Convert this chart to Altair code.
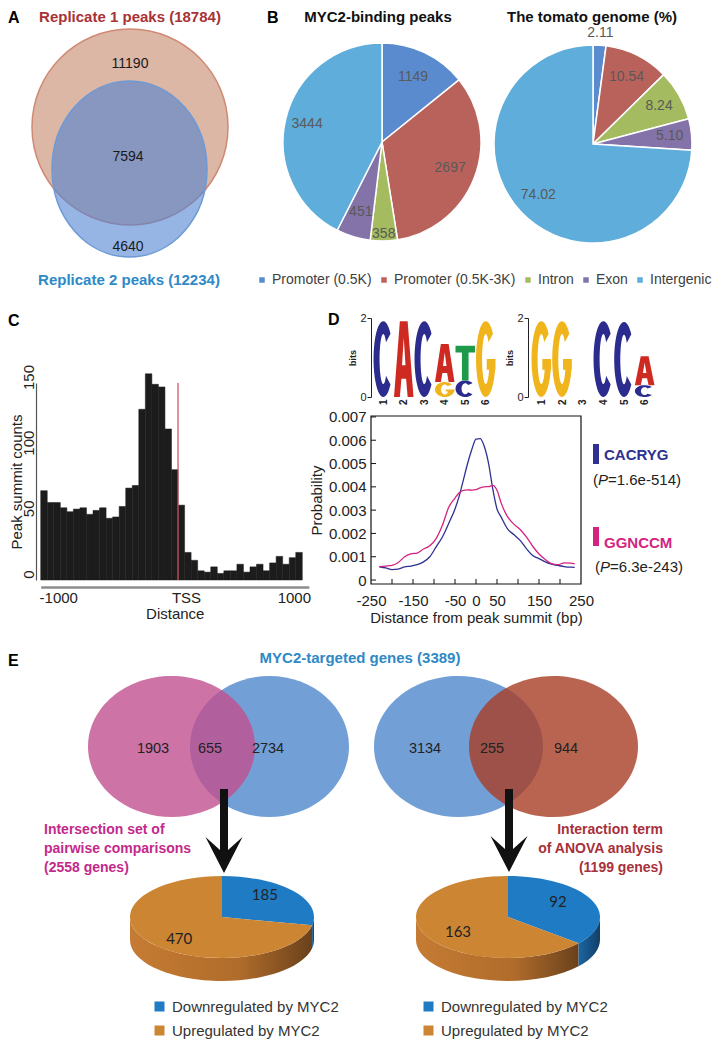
import math
import altair as alt
import pandas as pd

W, H = 706, 1032
FONT = "Liberation Sans"

# ---------------- data ----------------
rep_titles = ["Replicate 1 peaks (18784)", "Replicate 2 peaks (12234)"]
rep_counts = [11190, 7594, 4640]

region_cats = ["Promoter (0.5K)", "Promoter (0.5K-3K)", "Intron", "Exon", "Intergenic"]
myc2_peaks = [1149, 2697, 358, 451, 3444]
genome_pct = [2.11, 10.54, 8.24, 5.10, 74.02]

hist_counts = [68, 59, 59, 55, 52, 54, 55, 50, 53, 55, 47, 48, 56, 70, 72,
               130, 157, 149, 147, 115, 84, 57, 21, 15, 7, 6, 10, 5, 7, 7,
               12, 6, 10, 12, 7, 13, 18, 12, 17, 21]
hist_first_edge = -1050
hist_bin_width = 50
tss_pos = 0

motif1_stacks = [[("C", 1.92)], [("A", 1.92)], [("C", 1.92)],
                 [("G", 0.38), ("A", 0.96)], [("C", 0.42), ("T", 0.88)], [("G", 1.92)]]
motif2_stacks = [[("G", 1.92)], [("G", 1.92)], [], [("C", 1.92)], [("C", 1.90)],
                 [("C", 0.30), ("A", 0.73)]]

motif_names = ["CACRYG", "GGNCCM"]
motif_pvals = ["=1.6e-514)", "=6.3e-243)"]
dist_bp = [-230, -215, -200, -185, -170, -155, -140, -125, -110, -95, -80, -65, -50, -40,
           -30, -20, -10, 0, 10, 20, 30, 40, 50, 60, 75, 90, 105, 120, 135, 150, 165,
           180, 195, 210, 225, 235]
cacryg_prob = [0.00057, 0.00052, 0.00045, 0.00047, 0.00056, 0.00060, 0.00066, 0.00078,
               0.00100, 0.00142, 0.00185, 0.00243, 0.00305, 0.00360, 0.00430, 0.00500,
               0.00560, 0.00605, 0.00607, 0.00572, 0.00500, 0.00390, 0.00305, 0.00270,
               0.00220, 0.00195, 0.00170, 0.00135, 0.00105, 0.00092, 0.00078, 0.00068,
               0.00063, 0.00058, 0.00055, 0.00054]
ggnccm_prob = [0.00057, 0.00060, 0.00063, 0.00075, 0.00100, 0.00112, 0.00116, 0.00133,
               0.00147, 0.00178, 0.00235, 0.00312, 0.00352, 0.00375, 0.00385, 0.00387,
               0.00386, 0.00388, 0.00396, 0.00400, 0.00401, 0.00406, 0.00385, 0.00330,
               0.00272, 0.00240, 0.00217, 0.00185, 0.00145, 0.00112, 0.00088, 0.00070,
               0.00066, 0.00074, 0.00073, 0.00069]

venn_left_counts = [1903, 655, 2734]
venn_right_counts = [3134, 255, 944]
pie_groups = ["Downregulated by MYC2", "Upregulated by MYC2"]
pie_left_counts = [185, 470]
pie_right_counts = [92, 163]

# ---------------- styles ----------------
REGION_COLORS = ["#5b8bcf", "#b9625b", "#a5bb5f", "#8473a8", "#5eadda"]
LETTER_COLORS = {"A": "#cf2a22", "C": "#2c2c8f", "G": "#f0b41c", "T": "#1f9a4a"}
MOTIF_COLORS = ["#2e3192", "#d4237f"]
PIE_TOP = ["#1f7bc4", "#cc8533"]
ORANGE_SIDE = alt.LinearGradient(gradient="linear", x1=0, x2=1, y1=0, y2=0, stops=[
    alt.GradientStop(color="#c57b33", offset=0), alt.GradientStop(color="#b06c2b", offset=0.6),
    alt.GradientStop(color="#6a411c", offset=1)])
BLUE_SIDE = alt.LinearGradient(gradient="linear", x1=0, x2=1, y1=0, y2=0, stops=[
    alt.GradientStop(color="#1c66a3", offset=0), alt.GradientStop(color="#123f67", offset=1)])
INK = "#222222"

# page-coordinate scales (reference pixel coordinates)
PX = alt.Scale(domain=[8, 8 + W], range=[0, W], zero=False, nice=False)
PY = alt.Scale(domain=[8, 8 + H], range=[0, H], zero=False, nice=False)

layers = []


def page_xy():
    return dict(x=alt.X("x:Q", scale=PX, axis=None), y=alt.Y("y:Q", scale=PY, axis=None))


def texts(rows, size, color, weight="normal", align="center", style="normal", font=FONT):
    df = pd.DataFrame([(str(t), x, y) for t, x, y in rows], columns=["t", "x", "y"])
    layers.append(alt.Chart(df).mark_text(font=font, fontSize=size, color=color, fontWeight=weight,
                                          fontStyle=style, align=align, baseline="middle"
                                          ).encode(text="t:N", **page_xy()))


def ellipse_path(rx, ry):
    return f"M{-rx},0A{rx},{ry} 0 1,0 {rx},0A{rx},{ry} 0 1,0 {-rx},0Z"


def rect_path(w, h):
    return f"M{-w/2},{-h/2}L{w/2},{-h/2}L{w/2},{h/2}L{-w/2},{h/2}Z"


def arrow_path(length, shaft_hw, head_hw, head_len, notch):
    pts = [(-shaft_hw, -length), (shaft_hw, -length), (shaft_hw, -notch), (head_hw, -head_len),
           (0, 0), (-head_hw, -head_len), (-shaft_hw, -notch)]
    return "M" + "L".join(f"{x},{y}" for x, y in pts) + "Z"


def shapes(rows, fill, fill_opacity=1.0, stroke=None, stroke_width=0.0):
    df = pd.DataFrame(rows, columns=["p", "x", "y"])
    kw = dict(filled=True, fill=fill, fillOpacity=fill_opacity, opacity=1, size=4)
    if stroke:
        kw.update(stroke=stroke, strokeWidth=stroke_width, strokeOpacity=1)
    layers.append(alt.Chart(df).mark_point(**kw).encode(shape=alt.Shape("p:N", scale=None), **page_xy()))


# ---------------- letter glyphs for sequence logos ----------------
def linspace(a, b, n):
    return [a + (b - a) * k / (n - 1) for k in range(n)]


def ell_arc(cx, cy, rx, ry, t0, t1, n=36):
    return [(cx + rx * math.cos(math.radians(t)), cy - ry * math.sin(math.radians(t)))
            for t in linspace(t0, t1, n)]


GLYPHS = {
    "C": [(ell_arc(.5, .5, .5, .5, 42, 318) + ell_arc(.5, .5, .19, .33, 318, 42), False)],
    "G": [(ell_arc(.5, .5, .5, .5, 42, 360) + ell_arc(.5, .5, .19, .33, 360, 42), False),
          ([(.55, .5), (1, .5), (1, .64), (.55, .64)], False)],
    "A": [([(0, 1), (.3, 0), (.7, 0), (1, 1), (.7, 1), (.62, .76), (.38, .76), (.3, 1)], False),
          ([(.41, .58), (.5, .22), (.59, .58)], True)],
    "T": [([(0, 0), (1, 0), (1, .2), (.67, .2), (.67, 1), (.33, 1), (.33, .2), (0, .2)], False)],
}


def glyph_path(letter, w, h):
    out = []
    for poly, hole in GLYPHS[letter]:
        pts = [((u - .5) * w, (v - .5) * h) for u, v in poly]
        n = len(pts)
        area = sum(pts[k][0] * pts[(k + 1) % n][1] - pts[(k + 1) % n][0] * pts[k][1] for k in range(n))
        if (area < 0) != hole:
            pts = pts[::-1]
        out.append("M" + "L".join(f"{x:.2f},{y:.2f}" for x, y in pts) + "Z")
    return "".join(out)


# ================= panel A venn =================
shapes([(ellipse_path(98, 98), 130, 127)], "#dcb7a6", 1, "#d08a74", 1.5)
shapes([(ellipse_path(77.5, 88), 129.5, 169)], "#5082d2", 0.6, "#6c9ad6", 1.5)
texts([(rep_counts[0], 130, 64), (rep_counts[1], 128, 157), (rep_counts[2], 128, 247)], 14, "#1a1a1a")
texts([(rep_titles[0], 130, 17)], 15, "#a83236", "bold")
texts([(rep_titles[1], 129, 280)], 15, "#2e89c6", "bold")
texts([("A", 8, 18), ("B", 267, 18), ("C", 8, 321), ("D", 328, 320), ("E", 8, 661)],
      16, "black", "bold", "left")
texts([("MYC2-binding peaks", 378, 17), ("The tomato genome (%)", 592, 17)], 15, "#111111", "bold")

# ================= panel B pies =================
B_LEGEND = alt.Legend(orient="none", legendX=247, legendY=265, direction="horizontal", title=None,
                      symbolType="square", symbolSize=30, symbolStrokeWidth=0, labelFontSize=14,
                      labelFont=FONT, labelColor="#404040", columnPadding=5, labelOffset=3,
                      padding=0, labelLimit=300)


def pie_b(values, labels, label_r, cx, cy, legend):
    df = pd.DataFrame({"cat": region_cats, "v": values, "i": list(range(len(values))),
                       "lr": label_r, "lab": labels})
    center = dict(x=alt.value(cx - 8), y=alt.value(cy - 8))
    layers.append(alt.Chart(df).mark_arc(radius=99, stroke="white", strokeWidth=1.5).encode(
        theta=alt.Theta("v:Q", stack=True), order=alt.Order("i:Q"),
        color=alt.Color("cat:N", scale=alt.Scale(domain=region_cats, range=REGION_COLORS), legend=legend),
        **center))
    layers.append(
        alt.Chart(df)
        .transform_window(cum="sum(v)", sort=[alt.SortField("i", order="ascending")], frame=[None, 0])
        .transform_joinaggregate(tot="sum(v)")
        .transform_calculate(mid="2*PI*(datum.cum - datum.v/2)/datum.tot")
        .mark_text(fontSize=14, color="#595959", font=FONT)
        .encode(text="lab:N", theta=alt.Theta("mid:Q", scale=None),
                radius=alt.Radius("lr:Q", scale=None), **center))


pie_b(myc2_peaks, [str(v) for v in myc2_peaks], [72, 73, 92, 73, 77], 382, 142, B_LEGEND)
pie_b(genome_pct, [f"{v:.2f}" for v in genome_pct], [111, 75, 76, 77, 75], 593, 144, None)

# ================= panel C histogram =================
hist_df = pd.DataFrame({"start": [hist_first_edge + i * hist_bin_width for i in range(len(hist_counts))],
                        "count": hist_counts})
hist_df["end"] = hist_df["start"] + hist_bin_width
PX_PER_BP = 261.6 / 2000
HXS = alt.Scale(domain=[-1050, 1000], range=[32.7, 32.7 + 2050 * PX_PER_BP], zero=False, nice=False)
HYS = alt.Scale(domain=[0, 150], range=[572, 375], zero=False, nice=False)

hx_axis = alt.Axis(orient="bottom", offset=579 - H, values=[-1000, 0, 1000],
                   labelExpr="datum.value == 0 ? 'TSS' : (datum.value < 0 ? '-' : '') + abs(datum.value)",
                   labelOffset={"condition": [{"test": "datum.value < 0", "value": 11},
                                              {"test": "datum.value == 0", "value": 8}], "value": -15},
                   ticks=False, domainColor="#8c8c8c", domainWidth=2.5, labelFontSize=15,
                   labelColor=INK, labelPadding=3, labelFlush=False, labelOverlap=False,
                   title="Distance", titleFontSize=15, titleFontWeight="normal", titleColor=INK,
                   titlePadding=1, grid=False)
hy_axis = alt.Axis(orient="left", offset=-28, values=[0, 50, 100, 150], ticks=False,
                   domainColor="#555555", domainWidth=1.2, labelAngle=270, labelAlign="center",
                   labelBaseline="alphabetic", labelPadding=3, labelOffset=-6, labelFontSize=15,
                   labelColor=INK, labelOverlap=False, labelFlush=False,
                   title="Peak summit counts", titleFontSize=15, titleFontWeight="normal",
                   titleColor=INK, titlePadding=-3, grid=False)

layers.append(alt.Chart(hist_df).mark_rect(color="#1c1c1c", stroke="#1c1c1c", strokeWidth=0.5).encode(
    x=alt.X("start:Q", scale=HXS, axis=hx_axis), x2=alt.X2("end"),
    y=alt.Y("count:Q", scale=HYS, axis=hy_axis), y2=alt.datum(0)))
layers.append(alt.Chart(pd.DataFrame({"x": [tss_pos]})).mark_rule(color="#c9555f", strokeWidth=1.6, opacity=0.8).encode(
    x=alt.X("x:Q", scale=HXS, axis=None), y=alt.YDatum(0, scale=HYS, axis=None), y2=alt.datum(150)))

# ================= panel D logos =================
LOGO_Y = alt.Scale(domain=[0, 2], range=[389, 310], zero=False, nice=False)
PX_PER_BIT = (389 - 310) / 2


def logo_chart(stacks, x_range, axis_x):
    colw = (x_range[1] - x_range[0]) / 6
    rows = []
    for ci, stack in enumerate(stacks, start=1):
        base = 0.0
        for letter, bits in stack:
            rows.append({"col": ci, "letter": letter, "ym": base + bits / 2,
                         "path": glyph_path(letter, colw * 0.95, bits * PX_PER_BIT)})
            base += bits
    df = pd.DataFrame(rows)
    xs = alt.Scale(domain=[0.5, 6.5], range=list(x_range), zero=False, nice=False)
    layers.append(alt.Chart(df).mark_point(filled=True, opacity=1, size=4).encode(
        x=alt.X("col:Q", scale=xs, axis=alt.Axis(
            orient="bottom", offset=389 - H, values=[1, 2, 3, 4, 5, 6], format="d", labelAngle=270,
            labelAlign="right", labelBaseline="middle", ticks=False, domain=False, labelFontSize=10,
            labelFontWeight="bold", labelColor=INK, labelPadding=2, labelFlush=False,
            labelOverlap=False, title=None, grid=False)),
        y=alt.Y("ym:Q", scale=LOGO_Y, axis=alt.Axis(
            orient="left", offset=-(axis_x - 8), values=[0, 1, 2], format="d", tickSize=4, tickColor=INK,
            domainColor=INK, labelFontSize=11, labelColor=INK, labelPadding=1,
            labelFlush=False, labelOverlap=False, title="bits", titleFontSize=9,
            titleFontWeight="bold", titleColor=INK, titlePadding=2, grid=False)),
        shape=alt.Shape("path:N", scale=None),
        color=alt.Color("letter:N", scale=alt.Scale(domain=list(LETTER_COLORS),
                                                    range=list(LETTER_COLORS.values())), legend=None),
    ))


logo_chart(motif1_stacks, (365, 488), 371)
logo_chart(motif2_stacks, (523, 647), 528)

# ================= panel D line chart =================
LXS = alt.Scale(domain=[-250, 250], range=[363, 573], zero=False, nice=False)
LY0, LY1 = -0.00017, 0.00704
LYS = alt.Scale(domain=[LY0, LY1], range=[576, 408], zero=False, nice=False)
n_pts = len(dist_bp)
line_df = pd.DataFrame({"bp": dist_bp * 2, "p": cacryg_prob + ggnccm_prob,
                        "motif": [motif_names[0]] * n_pts + [motif_names[1]] * n_pts})
prob_ticks = [round(0.001 * k, 3) for k in range(8)]

layers.append(alt.Chart(pd.DataFrame({"a": [0]})).mark_rect(fillOpacity=0, stroke="#111111", strokeWidth=1.2).encode(
    x=alt.XDatum(-250, scale=LXS, axis=None), x2=alt.datum(250),
    y=alt.YDatum(LY0, scale=LYS, axis=None), y2=alt.datum(LY1)))
layers.append(alt.Chart(pd.DataFrame({"v": list(range(-200, 201, 50))})).mark_rule(color="#111111").encode(
    x=alt.X("v:Q", scale=LXS, axis=None), y=alt.value(576), y2=alt.value(571)))
layers.append(alt.Chart(pd.DataFrame({"v": prob_ticks})).mark_rule(color="#111111").encode(
    y=alt.Y("v:Q", scale=LYS, axis=None), x=alt.value(363), x2=alt.value(368)))
layers.append(alt.Chart(line_df).mark_line(strokeWidth=1.3, interpolate="monotone").encode(
    x=alt.X("bp:Q", scale=LXS, axis=alt.Axis(
        orient="bottom", offset=576 - H, values=[-250, -150, -50, 0, 50, 150, 250],
        labelExpr="(datum.value < 0 ? '-' : '') + abs(datum.value)", ticks=False, domain=False,
        labelFontSize=15, labelColor=INK, labelPadding=9, labelFlush=False, labelOverlap=False,
        title="Distance from peak summit (bp)", titleFontSize=15, titleFontWeight="normal",
        titleColor=INK, titlePadding=2, grid=False)),
    y=alt.Y("p:Q", scale=LYS, axis=alt.Axis(
        orient="left", offset=-363, values=prob_ticks,
        labelExpr="datum.value == 0 ? '0' : format(datum.value, '.3f')", ticks=False, domain=False,
        labelFontSize=15, labelColor=INK, labelPadding=5, labelFlush=False, labelOverlap=False,
        title="Probability", titleFontSize=15, titleFontWeight="normal", titleColor=INK,
        titlePadding=4, grid=False)),
    color=alt.Color("motif:N", scale=alt.Scale(domain=motif_names, range=MOTIF_COLORS), legend=None),
))

# panel D legend
shapes([(rect_path(6, 20), 596, 454)], MOTIF_COLORS[0])
shapes([(rect_path(6, 19), 596, 536.5)], MOTIF_COLORS[1])
texts([(motif_names[0], 604, 455)], 15, MOTIF_COLORS[0], "bold", "left")
texts([(motif_names[1], 604, 543)], 15, MOTIF_COLORS[1], "bold", "left")
texts([("(", 593, 480), ("(", 595, 567)], 15, INK, align="left")
texts([("P", 598, 480), ("P", 600, 567)], 15, INK, align="left", style="italic")
texts([(motif_pvals[0], 608, 480), (motif_pvals[1], 610, 567)], 15, INK, align="left")

# ================= panel E =================
texts([("MYC2-targeted genes (3389)", 360, 658)], 15, "#2e89c6", "bold")
shapes([(ellipse_path(79.5, 70.5), 269.5, 746.5)], "#72a0d6")
shapes([(ellipse_path(83.5, 70.5), 171.5, 746.5)], "#c1508f", 0.8)
shapes([(ellipse_path(84.5, 70.5), 458.5, 746.5)], "#72a0d6")
shapes([(ellipse_path(84.5, 70.5), 553.5, 746.5)], "#a83d24", 0.8)
texts([(venn_left_counts[0], 153, 749), (venn_left_counts[1], 210, 749), (venn_left_counts[2], 268, 749),
       (venn_right_counts[0], 425, 749), (venn_right_counts[1], 492, 749), (venn_right_counts[2], 566, 749)],
      14.5, INK)
shapes([(arrow_path(84, 4, 18.5, 36, 23), 224, 873), (arrow_path(83, 4, 18.5, 36, 23), 509, 872)], "#111111")
texts([("Intersection set of", 44, 830), ("pairwise comparisons", 44, 849), ("(2558 genes)", 44, 868)],
      14, "#c3298b", "bold", "left")
texts([("Interaction term", 663, 830), ("of ANOVA analysis", 663, 849), ("(1199 genes)", 663, 868)],
      14, "#a8303a", "bold", "right")


def pie_e(counts, cx, legend_x):
    RX, RY, DEPTH, CY = 92, 41, 23, 917
    df = pd.DataFrame({"cat": pie_groups, "v": counts, "i": [0, 1]})
    base = (alt.Chart(df)
            .transform_window(cum="sum(v)", sort=[alt.SortField("i", order="ascending")], frame=[None, 0])
            .transform_joinaggregate(tot="sum(v)")
            .transform_calculate(a0="2*PI*(datum.cum-datum.v)/datum.tot")
            .transform_calculate(a1="2*PI*datum.cum/datum.tot"))

    def P(a, dy=0):
        return (f"(round(100*{RX}*sin({a}))/100) + ',' + "
                f"(round(100*({dy}-{RY}*cos({a})))/100)")

    top_expr = ("'M0,0L' + " + P("datum.a0") + f" + 'A{RX},{RY} 0 ' + "
                "(datum.a1 - datum.a0 > PI ? '1' : '0') + ',1 ' + " + P("datum.a1") + " + 'Z'")
    side_expr = ("'M' + " + P("datum.s0") + f" + 'A{RX},{RY} 0 0,1 ' + " + P("datum.s1") +
                 " + 'L' + " + P("datum.s1", DEPTH) + f" + 'A{RX},{RY} 0 0,0 ' + " +
                 P("datum.s0", DEPTH) + " + 'Z'")
    center = dict(x=alt.value(cx - 8), y=alt.value(CY - 8))
    sides = (base.transform_calculate(s0="max(datum.a0, PI/2)")
             .transform_calculate(s1="min(datum.a1, 3*PI/2)")
             .transform_filter("datum.s1 > datum.s0 + 0.001")
             .transform_calculate(sp=side_expr))
    layers.append(sides.transform_filter("datum.i == 1").mark_point(
        filled=True, size=4, opacity=1, fill=ORANGE_SIDE).encode(shape=alt.Shape("sp:N", scale=None), **center))
    layers.append(sides.transform_filter("datum.i == 0").mark_point(
        filled=True, size=4, opacity=1, fill=BLUE_SIDE).encode(shape=alt.Shape("sp:N", scale=None), **center))
    legend = alt.Legend(orient="none", legendX=legend_x - 8, legendY=991, direction="vertical", title=None,
                        symbolType="square", symbolSize=100, symbolStrokeWidth=0, labelFontSize=15,
                        labelFont=FONT, labelColor="#333333", labelOffset=5, rowPadding=8, padding=0,
                        labelLimit=300)
    layers.append(base.transform_calculate(tp=top_expr).mark_point(filled=True, size=4, opacity=1).encode(
        shape=alt.Shape("tp:N", scale=None),
        color=alt.Color("cat:N", scale=alt.Scale(domain=pie_groups, range=PIE_TOP), legend=legend),
        **center))
    layers.append(base.transform_calculate(am="(datum.a0+datum.a1)/2")
                  .transform_calculate(x=f"{cx} + {0.6 * RX}*sin(datum.am)")
                  .transform_calculate(y=f"{CY} - {0.85 * RY}*cos(datum.am)")
                  .mark_text(font="Lato", fontSize=15, color=INK)
                  .encode(text="v:Q", **page_xy()))


pie_e(pie_left_counts, 222, 152)
pie_e(pie_right_counts, 508, 421)

chart = (alt.layer(*layers)
         .resolve_scale(x="independent", y="independent", color="independent", theta="independent")
         .properties(width=W, height=H, autosize=alt.AutoSizeParams(type="none"), padding=0,
                     background="white")
         .configure(font=FONT)
         .configure_view(stroke=None))

chart.save("out.html", embed_options={"renderer": "svg", "actions": False})
